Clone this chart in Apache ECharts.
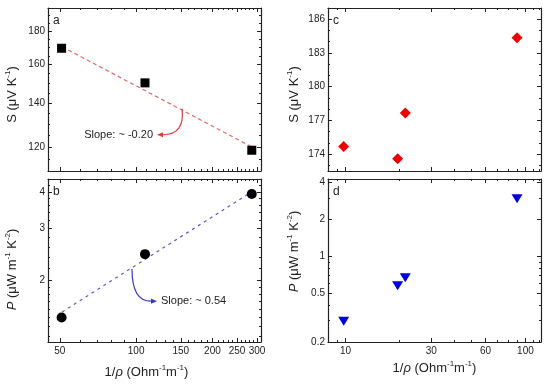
<!DOCTYPE html>
<html>
<head>
<meta charset="utf-8">
<script src="https://cdn.jsdelivr.net/npm/echarts@6/dist/echarts.min.js"></script>
<style>html,body{margin:0;padding:0;background:#fff}#chart{width:550px;height:386px}</style>
</head>
<body>
<div id="chart"></div>
<script>
// ---- data ----
const condLeft = [50.8, 108.4, 286];          // 1/rho, panels a & b
const seebeckLeft = [169.4, 150.1, 118.6];    // S, panel a
const powerLeft = [1.50, 2.46, 3.93];         // P, panel b
const fitCond = [51, 286];                    // fit line x ends
const fitSeebeck = [170.3, 120.0];            // fit line, panel a
const fitPower = [1.566, 4.0];                // fit line, panel b
const condRight = [9.78, 19.5, 21.5, 89.8];   // 1/rho, panels c & d
const seebeckRight = [174.68, 173.6, 177.67, 184.35]; // S, panel c
const powerRight = [0.295, 0.576, 0.668, 2.94];        // P, panel d

// tick values
const ticksLeftX = [50, 100, 150, 200, 250, 300];
const minorLeftX = [60, 70, 80, 90, 110, 120, 130, 140, 160, 170, 180, 190, 210, 220, 230, 240, 260, 270, 280, 290];
const ticksAY = [120, 140, 160, 180];
const minorAY = [115, 125, 130, 135, 145, 150, 155, 165, 170, 175, 185, 190];
const ticksBY = [2, 3, 4];
const minorBY = [1.3, 1.4, 1.5, 1.6, 1.7, 1.8, 1.9, 2.2, 2.4, 2.6, 2.8, 3.2, 3.4, 3.6, 3.8, 4.2, 4.4];
const ticksRightX = [10, 30, 60, 100];
const minorRightX = [8, 9, 20, 40, 50, 70, 80, 90, 110, 120];
const ticksCY = [174, 177, 180, 183, 186];
const minorCY = [173, 175, 176, 178, 179, 181, 182, 184, 185, 187];
const ticksDY = [0.2, 0.5, 1, 2, 4];
const minorDY = [0.3, 0.4, 0.6, 0.7, 0.8, 0.9, 3];

// slope annotations: arrow start (on fit line) and end, in data units
const slopeA = {from: [151.8, 137.2], to: [120.9, 125.2], text: 'Slope: ~ -0.20'};
const slopeB = {from: [96.3, 2.193], to: [120.9, 1.705], text: 'Slope: ~ 0.54'};

const FONT = 'Liberation Sans, Arial, Helvetica, sans-serif';
const INK = '#222';
const lg = Math.log10;
const id = v => v;

const rich = {
  t: {fontSize: 13, fontFamily: FONT, color: INK, lineHeight: 16},
  i: {fontSize: 13, fontFamily: FONT, color: INK, lineHeight: 16, fontStyle: 'italic'},
  s: {fontSize: 8, fontFamily: FONT, color: INK, lineHeight: 9, verticalAlign: 'top'}
};
const nameS = '{t|S (μV K}{s|-1}{t|)}';
const nameP = '{i|P}{t| (μW m}{s|-1}{t| K}{s|-2}{t|)}';
const nameX = '{t|1/}{i|ρ}{t| (Ohm}{s|-1}{t|m}{s|-1}{t|)}';

function fmt(v) { return String(Number(v.toPrecision(4))); }

const xAxes = [], yAxes = [];
function addAxes(list, dim, grid, c) {
  const tf = c.log ? lg : id;
  const pos = dim === 'x' ? ['bottom', 'top'] : ['left', 'right'];
  const mainIndex = list.length;
  pos.forEach((p, k) => {
    [true, false].forEach(major => {
      const isMain = k === 0 && major;
      const ax = {
        type: 'value', gridIndex: grid, position: p, offset: 0,
        min: tf(c.min), max: tf(c.max), silent: true,
        splitLine: {show: false}, splitArea: {show: false},
        axisLine: {show: major, onZero: false, lineStyle: {color: INK, width: 1.2}},
        axisTick: {show: true, inside: true, length: major ? 4 : 2,
          customValues: (major ? c.majors : c.minors).map(tf),
          lineStyle: {color: INK, width: 1}},
        axisLabel: {show: isMain && c.showLabels,
          customValues: c.majors.map(tf),
          formatter: v => fmt(c.log ? Math.pow(10, v) : v),
          margin: dim === 'x' ? 4 : 3, fontSize: 10, color: INK, fontFamily: FONT}
      };
      if (isMain && c.name) {
        ax.name = c.name;
        ax.nameLocation = 'middle';
        ax.nameGap = c.nameGap;
        ax.nameTextStyle = {rich: rich, padding: c.namePad || 0};
      }
      list.push(ax);
    });
  });
  return mainIndex;
}

const leftX = {min: 44.9, max: 311, log: true, majors: ticksLeftX, minors: minorLeftX};
const rightX = {min: 8, max: 122, log: true, majors: ticksRightX, minors: minorRightX};

const xa = addAxes(xAxes, 'x', 0, Object.assign({}, leftX, {showLabels: false}));
const ya = addAxes(yAxes, 'y', 0, {min: 110.3, max: 195, log: true, majors: ticksAY, minors: minorAY, showLabels: true, name: nameS, nameGap: 28, namePad: [0, 10, 0, 0]});
const xb = addAxes(xAxes, 'x', 1, Object.assign({}, leftX, {showLabels: true, name: nameX, nameGap: 22, namePad: [0, 16, 0, 0]}));
const yb = addAxes(yAxes, 'y', 1, {min: 1.24, max: 4.42, log: true, majors: ticksBY, minors: minorBY, showLabels: true, name: nameP, nameGap: 28, namePad: [0, 18, 0, 0]});
const xc = addAxes(xAxes, 'x', 2, Object.assign({}, rightX, {showLabels: false}));
const yc = addAxes(yAxes, 'y', 2, {min: 172.5, max: 187, log: false, majors: ticksCY, minors: minorCY, showLabels: true, name: nameS, nameGap: 26, namePad: [0, 10, 0, 0]});
const xd = addAxes(xAxes, 'x', 3, Object.assign({}, rightX, {showLabels: true, name: nameX, nameGap: 18}));
const yd = addAxes(yAxes, 'y', 3, {min: 0.2, max: 4.27, log: true, majors: ticksDY, minors: minorDY, showLabels: true, name: nameP, nameGap: 26, namePad: [0, 0, 0, 18]});

function pts(xs, ys, logY) {
  return xs.map((x, i) => [lg(x), logY ? lg(ys[i]) : ys[i]]);
}

// curved arrow + text, drawn through the axes' scales
function slopeSeries(xi, yi, s, color, textSide) {
  return {
    type: 'custom', xAxisIndex: xi, yAxisIndex: yi, silent: true, z: 4,
    data: [[lg(s.from[0]), lg(s.from[1]), lg(s.to[0]), lg(s.to[1])]],
    renderItem: function (params, api) {
      const p1 = api.coord([api.value(0), api.value(1)]);
      const p2 = api.coord([api.value(2), api.value(3)]);
      const cp = [p1[0] + (textSide === 'left' ? 3 : 0), p2[1]];
      let ux = p2[0] - cp[0], uy = p2[1] - cp[1];
      const L = Math.hypot(ux, uy) || 1; ux /= L; uy /= L;
      const len = 6, hw = 2.6;
      const bx = p2[0] - ux * len, by = p2[1] - uy * len;
      const tx = textSide === 'left' ? p2[0] - 4 : p2[0] + 4;
      return {
        type: 'group',
        children: [
          {type: 'bezierCurve', shape: {x1: p1[0], y1: p1[1], cpx1: cp[0], cpy1: cp[1], x2: bx, y2: by},
            style: {stroke: color, fill: null, lineWidth: 1.2}},
          {type: 'polygon', shape: {points: [[p2[0], p2[1]], [bx - uy * hw, by + ux * hw], [bx + uy * hw, by - ux * hw]]},
            style: {fill: color}},
          {type: 'text', x: tx, y: p2[1],
            style: {text: s.text, align: textSide === 'left' ? 'right' : 'left', verticalAlign: 'middle',
              fontSize: 11, fontFamily: FONT, fill: INK}}
        ]
      };
    }
  };
}

const series = [
  {type: 'line', xAxisIndex: xa, yAxisIndex: ya, data: pts(fitCond, fitSeebeck, true),
    symbol: 'none', lineStyle: {type: [4, 3], color: '#e06a6a', width: 1.2}, z: 1, silent: true},
  slopeSeries(xa, ya, slopeA, '#e23a3a', 'left'),
  {type: 'scatter', xAxisIndex: xa, yAxisIndex: ya, data: pts(condLeft, seebeckLeft, true),
    symbol: 'rect', symbolSize: 9, itemStyle: {color: '#000', opacity: 1}, z: 3},
  {type: 'line', xAxisIndex: xb, yAxisIndex: yb, data: pts(fitCond, fitPower, true),
    symbol: 'none', lineStyle: {type: [3, 4], color: '#5a5ad0', width: 1.2}, z: 1, silent: true},
  slopeSeries(xb, yb, slopeB, '#3a3ab8', 'right'),
  {type: 'scatter', xAxisIndex: xb, yAxisIndex: yb, data: pts(condLeft, powerLeft, true),
    symbol: 'circle', symbolSize: 10, itemStyle: {color: '#000', opacity: 1}, z: 3},
  {type: 'scatter', xAxisIndex: xc, yAxisIndex: yc, data: pts(condRight, seebeckRight, false),
    symbol: 'diamond', symbolSize: 11, itemStyle: {color: '#ee0000', opacity: 1}, z: 3},
  {type: 'scatter', xAxisIndex: xd, yAxisIndex: yd, data: pts(condRight, powerRight, true),
    symbol: 'triangle', symbolRotate: 180, symbolSize: [11, 9], itemStyle: {color: '#0000dd', opacity: 1}, z: 3}
];

const grids = [
  {left: 48, top: 8, width: 213, height: 163},
  {left: 48, top: 179, width: 213, height: 163},
  {left: 328, top: 8, width: 213, height: 163},
  {left: 328, top: 179, width: 213, height: 163}
].map(g => Object.assign(g, {containLabel: false, outerBoundsMode: 'none'}));

const letters = [['a', 53, 15], ['b', 53, 186], ['c', 333, 15], ['d', 333, 186]];

const chart = echarts.init(document.getElementById('chart'), null, {renderer: 'canvas'});
chart.setOption({
  animation: false,
  backgroundColor: '#fff',
  grid: grids,
  xAxis: xAxes,
  yAxis: yAxes,
  series: series,
  graphic: letters.map(l => ({
    type: 'text', left: l[1], top: l[2], silent: true,
    style: {text: l[0], fontSize: 12, fontFamily: FONT, fill: INK}
  }))
});
</script>
</body>
</html>
